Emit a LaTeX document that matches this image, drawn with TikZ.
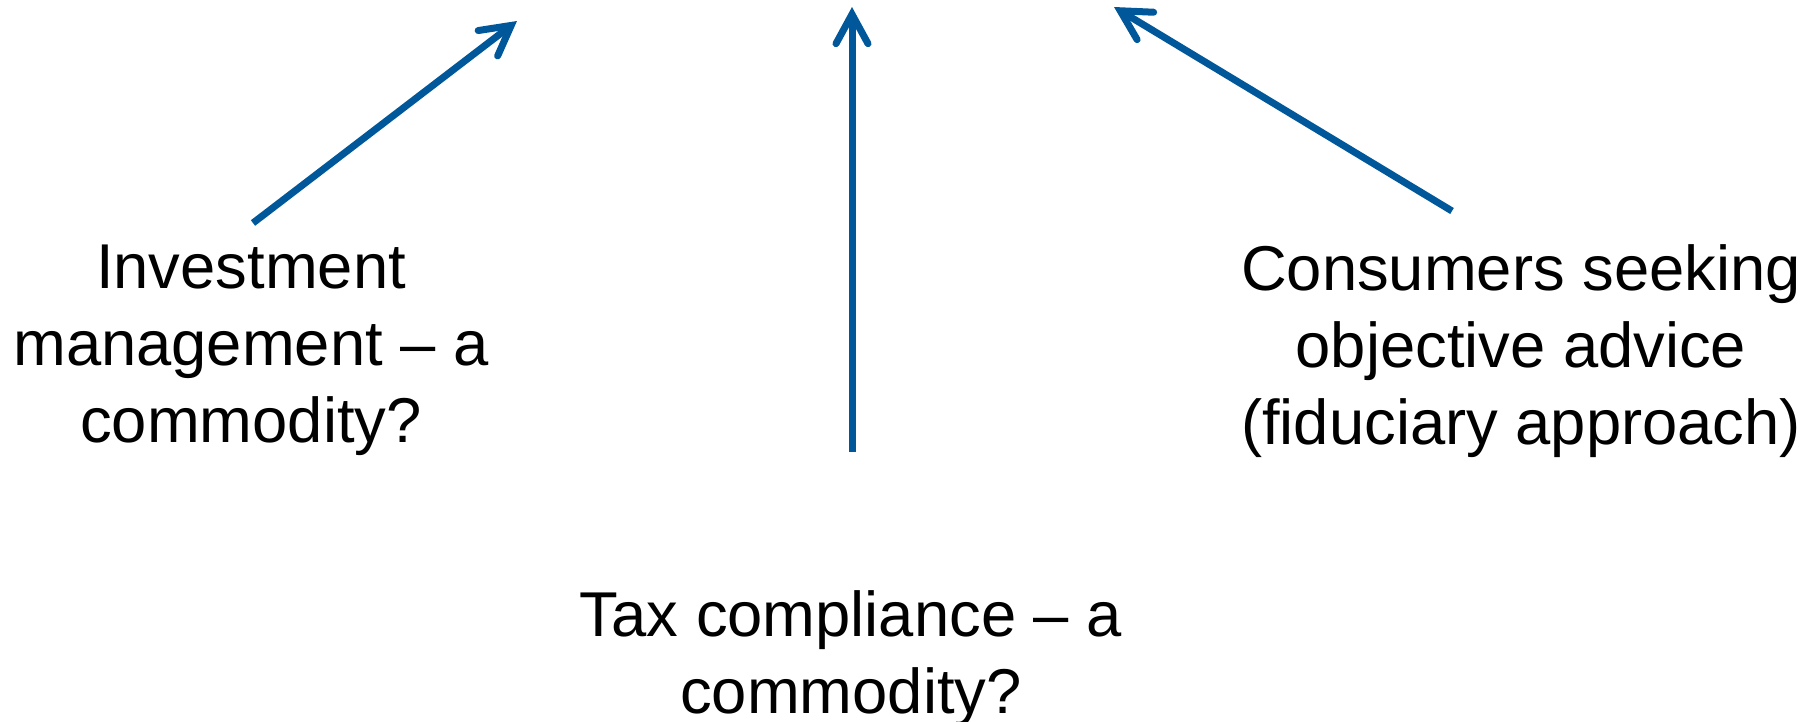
\documentclass[tikz,border=0pt]{standalone}
\usepackage{fontspec}
\setmainfont{Liberation Sans}
\usepackage{tikz}
\usepackage{color}
\usetikzlibrary{arrows.meta}
\definecolor{arrblue}{RGB}{0,88,155}

\begin{document}
\begin{tikzpicture}[line join=round,>={Straight Barb[length=22pt,width=24pt,line cap=round]},x=0.75pt,y=-0.75pt,
  txt/.style={anchor=north,inner sep=0pt,align=center,font=\fontsize{47.5}{57.75}\selectfont},
  arr/.style={->,color=arrblue,line width=5.25pt,line cap=butt}]
        % \draw[help lines,step=100] (0,0) grid (1813,721);
        \useasboundingbox (0,0) rectangle (1813,721);
        \node[txt] (inv) at (251,245) {Investment\\management -- a\\commodity?};
        \node[txt] (tax) at (851,590) {Tax compliance -- a\\commodity?};
        \node[txt] (cons) at (1521,244) {Consumers seeking\\objective advice\\(fiduciary approach)};
        \coordinate (invtip) at (517,21);
        \coordinate (taxtip) at (852,7);
        \coordinate (constip) at (1114,7);
        \draw[arr] ([shift={(2,-22)}]inv.north) -- (invtip);
        \draw[arr] ([shift={(1,-138)}]tax.north) -- (taxtip);
        \draw[arr] ([shift={(-69,-33)}]cons.north) -- (constip);
\end{tikzpicture}
\end{document}
